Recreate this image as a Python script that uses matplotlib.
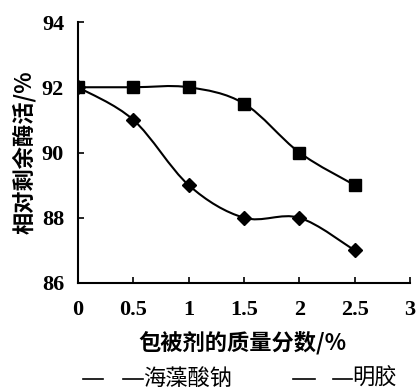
import numpy as np
import matplotlib
matplotlib.use("Agg")
import matplotlib.pyplot as plt
from matplotlib.path import Path
from matplotlib.patches import PathPatch
from matplotlib.lines import Line2D

# data
x = [0, 0.5, 1, 1.5, 2, 2.5]
alginate = [92, 91, 89, 88, 88, 87]      # 海藻酸钠
gelatin = [92, 92, 92, 91.5, 90, 89]     # 明胶

xticks = [0, 0.5, 1, 1.5, 2, 2.5, 3]
xticklabels = ["0", "0.5", "1", "1.5", "2", "2.5", "3"]
yticks = [86, 88, 90, 92, 94]

cjk = ["Noto Sans CJK SC", "DejaVu Sans"]
num_font = {"family": "Liberation Serif", "weight": "bold", "size": 16}


def smooth_path(xs, ys):
    # Catmull-Rom curve through the points, drawn as cubic Bezier segments
    pts = np.column_stack([xs, ys]).astype(float)
    verts = [pts[0]]
    codes = [Path.MOVETO]
    n = len(pts)
    for i in range(n - 1):
        p0 = pts[i - 1] if i > 0 else pts[i]
        p1 = pts[i]
        p2 = pts[i + 1]
        p3 = pts[i + 2] if i + 2 < n else pts[i + 1]
        c1 = p1 + (p2 - p0) / 6
        c2 = p2 - (p3 - p1) / 6
        verts += [c1, c2, p2]
        codes += [Path.CURVE4] * 3
    return Path(verts, codes)


W, H = 418, 388
fig = plt.figure(figsize=(W / 100, H / 100), dpi=100)
ax = fig.add_axes([78 / W, 1 - 283 / H, 332 / W, 261 / H])

for ys, marker, ms in [(gelatin, "s", 9), (alginate, "D", 7.5)]:
    ax.add_patch(PathPatch(smooth_path(x, ys), facecolor="none",
                           edgecolor="black", lw=1.5))
    ax.plot(x, ys, linestyle="none", marker=marker, ms=ms, color="black")

ax.set_xlim(0, 3)
ax.set_ylim(86, 94)
ax.set_xticks(xticks)
ax.set_xticklabels(xticklabels, fontdict=num_font)
ax.set_yticks(yticks)
ax.set_yticklabels([str(v) for v in yticks], fontdict=num_font)
ax.tick_params(direction="in", length=4, width=1.2)
ax.tick_params(axis="x", pad=12)
ax.tick_params(axis="y", pad=10)
ax.spines["top"].set_visible(False)
ax.spines["right"].set_visible(False)
ax.spines["left"].set_linewidth(1.5)
ax.spines["bottom"].set_linewidth(1.5)

ax.set_xlabel("包被剂的质量分数/%", family=cjk, fontsize=16, weight="bold")
ax.xaxis.label.set_va("center")
ax.xaxis.set_label_coords((242 - 78) / 332, (283 - 343) / 261)
ax.set_ylabel("相对剩余酶活/%", family=cjk, fontsize=16, weight="bold")
ax.yaxis.label.set_va("center")
ax.yaxis.set_label_coords((24 - 78) / 332, 0.5)

# legend drawn by hand, like the original: dash, dash+name
ly = 1 - 379 / H
for x0, x1 in [(83, 103), (123, 143), (293, 315), (333, 352)]:
    fig.add_artist(Line2D([x0 / W, x1 / W], [ly, ly], color="black", lw=1.2))
fig.text(143 / W, 1 - 378 / H, "海藻酸钠", family=cjk, fontsize=16, va="center")
fig.text(352 / W, 1 - 378 / H, "明胶", family=cjk, fontsize=16, va="center")

fig.savefig("out.png", dpi=100)
